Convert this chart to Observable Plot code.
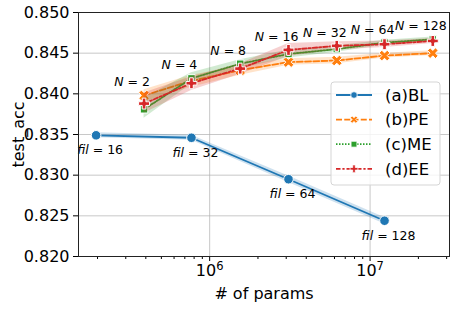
<!DOCTYPE html>
<html><head><meta charset="utf-8">
<script src="https://cdn.jsdelivr.net/npm/d3@7"></script>
<script src="https://cdn.jsdelivr.net/npm/@observablehq/plot@0.6"></script>
<style>body{margin:0;background:#fff}</style>
</head><body><div id="chart"></div>
<script>
// ---- data ----
const blParams = [1.96e5, 7.7e5, 3.1e6, 1.23e7];
const blFil = [16, 32, 64, 128];
const blAcc = [0.8349, 0.8346, 0.8295, 0.8244];
const blLo  = [0.8346, 0.8343, 0.8291, 0.8240];
const blHi  = [0.8352, 0.8349, 0.8299, 0.8248];

const ensParams = [3.9e5, 7.7e5, 1.55e6, 3.1e6, 6.2e6, 1.23e7, 2.46e7];
const ensN = [2, 4, 8, 16, 32, 64, 128];
const peAcc = [0.8398, 0.8416, 0.8429, 0.8439, 0.8441, 0.8447, 0.8450];
const peLo  = [0.8390, 0.8408, 0.8423, 0.8435, 0.8437, 0.8444, 0.8447];
const peHi  = [0.8405, 0.8423, 0.8434, 0.8443, 0.8445, 0.8450, 0.8453];
const meAcc = [0.8381, 0.8419, 0.8437, 0.8449, 0.8455, 0.8463, 0.8467];
const meLo  = [0.8370, 0.8412, 0.8431, 0.8444, 0.8451, 0.8460, 0.8464];
const meHi  = [0.8395, 0.8426, 0.8442, 0.8454, 0.8459, 0.8466, 0.8470];
const eeAcc = [0.8388, 0.8413, 0.8431, 0.8454, 0.8459, 0.8461, 0.8465];
const eeLo  = [0.8376, 0.8404, 0.8424, 0.8446, 0.8454, 0.8457, 0.8462];
const eeHi  = [0.8401, 0.8421, 0.8437, 0.8462, 0.8464, 0.8465, 0.8468];

const seriesNames = ["(a)BL", "(b)PE", "(c)ME", "(d)EE"];
const yTicks = [0.820, 0.825, 0.830, 0.835, 0.840, 0.845, 0.850];
const xMajor = [1e6, 1e7];
const xMinor = [2e5,3e5,4e5,5e5,6e5,7e5,8e5,9e5,2e6,3e6,4e6,5e6,6e6,7e6,8e6,9e6,2e7,3e7];

// ---- styles ----
const colors = ["#1f77b4", "#ff7f0e", "#2ca02c", "#d62728"];
const dashes = [null, "6,2.25", "1.5,1.5", "4.5,1.9,2.2,1.9"];
const symX = {draw(ctx, size){ const r = Math.sqrt(size/5)/2;
  const pts=[[-3*r,-r],[-r,-r],[-r,-3*r],[r,-3*r],[r,-r],[3*r,-r],[3*r,r],[r,r],[r,3*r],[-r,3*r],[-r,r],[-3*r,r]];
  const c=Math.SQRT1_2; pts.forEach(([x,y],i)=>{const X=(x-y)*c,Y=(x+y)*c; i?ctx.lineTo(X,Y):ctx.moveTo(X,Y);}); ctx.closePath();}};
const symbols = ["circle", symX, "square", "cross"];
const radii = [4.8, 4.8, 4.2, 4.6];

const mk = (params, acc, lo, hi, extra) => params.map((p,i)=>({p, acc:acc[i], lo:lo[i], hi:hi[i], ...extra(i)}));
const data = [
  mk(blParams, blAcc, blLo, blHi, i=>({lab:"fil = "+blFil[i]})),
  mk(ensParams, peAcc, peLo, peHi, i=>({})),
  mk(ensParams, meAcc, meLo, meHi, i=>({})),
  mk(ensParams, eeAcc, eeLo, eeHi, i=>({})),
];
const nLabels = ensParams.map((p,i)=>({p, y: Math.max(peAcc[i], meAcc[i], eeAcc[i]), lab: "N = "+ensN[i]}));

const marks = [
  Plot.gridY(yTicks, {stroke:"#b0b0b0", strokeOpacity:0.7, strokeWidth:1}),
  Plot.gridX(xMajor, {stroke:"#b0b0b0", strokeOpacity:0.7, strokeWidth:1}),
];
data.forEach((rows, k) => {
  marks.push(Plot.areaY(rows, {x:"p", y1:"lo", y2:"hi", fill:colors[k], fillOpacity:0.22, curve:"linear"}));
  marks.push(Plot.line(rows, {x:"p", y:"acc", stroke:colors[k], strokeWidth:1.8, strokeDasharray:dashes[k]}));
  marks.push(Plot.dot(rows, {x:"p", y:"acc", symbol:symbols[k], r:radii[k], fill:colors[k], stroke:"white", strokeWidth:1}));
});
marks.push(Plot.text(data[0], {x:"p", y:"acc", text:"lab", dx:4, dy:15, fontSize:12.5, className:"varlab"}));
marks.push(Plot.text(nLabels, {x:"p", y:"y", text:"lab", dx:-12, dy:-13, fontSize:12.5, className:"varlab"}));
marks.push(Plot.axisY(yTicks, {tickFormat:d3.format(".3f"), tickSize:5, tickPadding:4, label:"test_acc", labelAnchor:"center", labelArrow:"none", labelOffset:66}));
marks.push(Plot.axisX(xMinor, {tickSize:3, tickFormat:()=>"", label:null}));
marks.push(Plot.axisX(xMajor, {tickSize:5, tickPadding:3, tickFormat:d=>"10^"+Math.round(Math.log10(d)), label:"# of params", labelAnchor:"center", labelArrow:"none", labelOffset:42, className:"xmaj"}));
marks.push(Plot.frame({stroke:"#222", strokeWidth:1}));

const plot = Plot.plot({
  width:463, height:309, marginLeft:78, marginRight:14, marginTop:12, marginBottom:53,
  style:{fontFamily:"DejaVu Sans", fontSize:"16px", color:"#000", background:"white"},
  x:{type:"log", domain:[152200, 31260000]},
  y:{domain:[0.820, 0.850]},
  marks
});

// italic variable names in annotations
d3.select(plot).selectAll(".varlab text").each(function(){
  const t = this.textContent; const [v, n] = t.split(" = ");
  const s = d3.select(this); s.text(null);
  s.append("tspan").attr("font-style","italic").text(v);
  s.append("tspan").text(" = " + n);
});
// superscript exponents on x tick labels
d3.select(plot).selectAll(".xmaj text").each(function(){
  const t = this.textContent; if (!t.includes("^")) return;
  const [b, e] = t.split("^");
  const s = d3.select(this); s.text(null);
  s.append("tspan").text(b);
  s.append("tspan").attr("font-size","11.5px").attr("dy","-0.55em").text(e);
});

// legend
const svg = d3.select(plot);
const lg = svg.append("g").attr("transform","translate(331,82)");
lg.append("rect").attr("width",109).attr("height",103).attr("rx",3)
  .attr("fill","white").attr("fill-opacity",0.8).attr("stroke","#d5d5d5");
seriesNames.forEach((name,k)=>{
  const y = 13 + k*24.6;
  lg.append("line").attr("x1",5).attr("x2",41).attr("y1",y).attr("y2",y)
    .attr("stroke",colors[k]).attr("stroke-width",1.8).attr("stroke-dasharray",dashes[k]);
  const sym = typeof symbols[k]==="string" ? ({circle:d3.symbolCircle,square:d3.symbolSquare,cross:d3.symbolCross})[symbols[k]] : symbols[k];
  lg.append("path").attr("d", d3.symbol(sym, Math.PI*3.3*3.3)()).attr("transform",`translate(23,${y})`)
    .attr("fill",colors[k]).attr("stroke","white").attr("stroke-width",0.8);
  lg.append("text").attr("x",54).attr("y",y).attr("dy","0.35em").attr("text-anchor","start")
    .attr("font-size",16.5).attr("fill","#000").text(name);
});

document.getElementById("chart").appendChild(plot);
</script></body></html>
